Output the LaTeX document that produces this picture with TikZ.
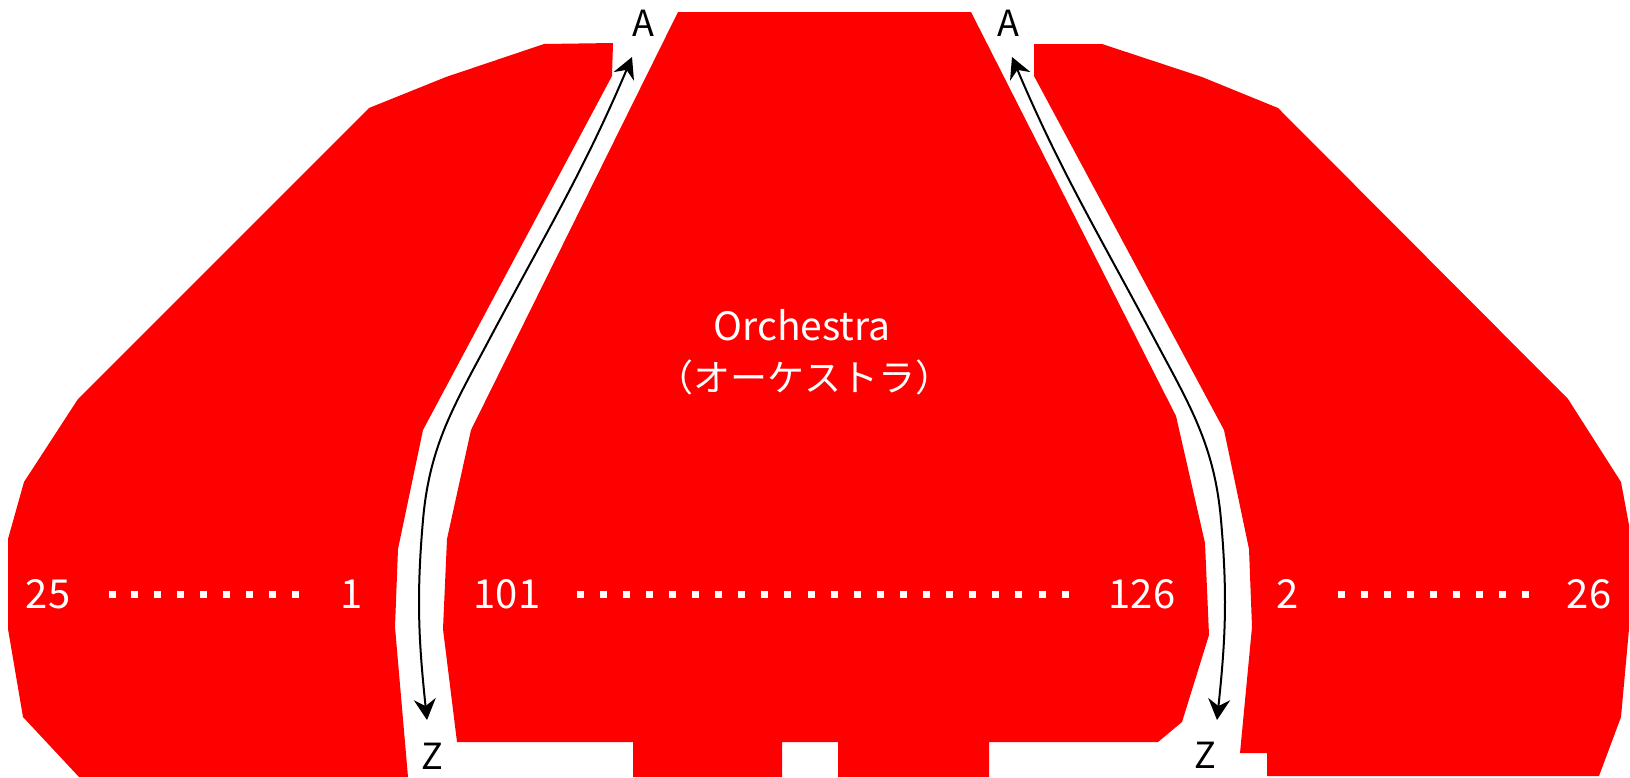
\documentclass[tikz,border=0pt]{standalone}
\usepackage{fontspec}
\setmainfont{Noto Sans CJK JP}
\usetikzlibrary{arrows.meta}
\tikzset{
  seats/.style={fill=red, draw=none},
  seatno/.style={text=white, inner sep=0pt, font=\fontsize{40}{40}\selectfont},
  hall/.style={text=white, inner sep=0pt},
  doorlabel/.style={text=black, inner sep=0pt, font=\fontsize{36}{36}\selectfont},
  aisle/.style={line width=2pt, {Stealth[length=21pt,width=22pt,inset=7pt]}-{Stealth[length=21pt,width=22pt,inset=7pt]}},
}
\begin{document}
\begin{tikzpicture}[x=1pt,y=-1pt]
        \useasboundingbox (0,0) rectangle (1630,777);
        %left block
        \fill[seats] (544,44) -- (613,43) -- (612,76) -- (423,430) -- (398,549) -- (395,627) -- (408,777) -- (79,777) -- (23,717) -- (8,629) -- (8,539) -- (24,482) -- (78,399) -- (369,108) -- (446,77) -- cycle;
        %centre block with the two notches at the bottom
        \fill[seats] (678,12) -- (971,12) -- (1176,416) -- (1205,543) -- (1209,635) -- (1182,722) -- (1158,742) -- (989,742) -- (989,777) -- (838,777) -- (838,742) -- (782,742) -- (782,777) -- (633,777) -- (633,742) -- (457,742) -- (443,629) -- (447,539) -- (471,430) -- cycle;
        %right block
        \fill[seats] (1034,44) -- (1102,44) -- (1202,77) -- (1278,108) -- (1568,399) -- (1621,482) -- (1629,525) -- (1629,629) -- (1621,717) -- (1599,776) -- (1267,776) -- (1267,753) -- (1240,753) -- (1252,627) -- (1249,549) -- (1224,430) -- (1034,76) -- cycle;

        \node[hall, font=\fontsize{39}{39}\selectfont, anchor=base] (orch) at (802,340) {Orchestra};
        \node[hall, font=\fontsize{37}{37}\selectfont] (orchjp) at (804,377) {（オーケストラ）};

        %seat numbers and dotted rows
        \node[seatno] (l25) at (48,594) {25};
        \node[seatno] (l1) at (352,594) {1};
        \node[seatno] (c101) at (507,594) {101};
        \node[seatno] (c126) at (1142,594) {126};
        \node[seatno] (r2) at (1288,594) {2};
        \node[seatno] (r26) at (1589,594) {26};
        \foreach \i in {0,...,8} \fill[white] ({112+22.9*\i-3.5},590.5) rectangle +(7,7);
        \foreach \i in {0,...,21} \fill[white] ({580+23.1*\i-3.5},590.5) rectangle +(7,7);
        \foreach \i in {0,...,8} \fill[white] ({1341+23.1*\i-3.5},590.5) rectangle +(7,7);

        \node[doorlabel] (la) at (643,23) {A};
        \node[doorlabel] (ra) at (1008,23) {A};
        \node[doorlabel] (lz) at (432,756) {Z};
        \node[doorlabel] (rz) at (1205,755) {Z};

        %aisles
        \coordinate (lt) at (632,57);
        \coordinate (lm) at (489,340);
        \coordinate (ll) at (423,520);
        \coordinate (lb) at (427,720);
        \draw[aisle] (lt) to[out=-113,in=62] (lm) to[out=-118,in=85] (ll) to[out=-95,in=96] (lb);
        \coordinate (rt) at (1012,57);
        \coordinate (rm) at (1155,340);
        \coordinate (rl) at (1221,520);
        \coordinate (rb) at (1217,720);
        \draw[aisle] (rt) to[out=-67,in=118] (rm) to[out=-62,in=95] (rl) to[out=-85,in=84] (rb);
\end{tikzpicture}
\end{document}
